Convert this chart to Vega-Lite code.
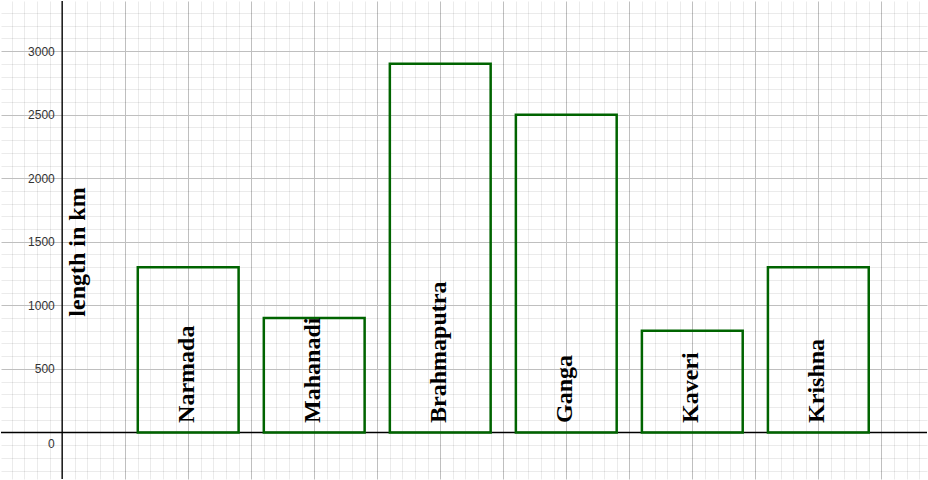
{
  "$schema": "https://vega.github.io/schema/vega-lite/v6.json",
  "width": 928,
  "height": 480,
  "autosize": {"type": "fit", "contains": "padding"},
  "padding": 0,
  "background": "white",
  "config": {"view": {"stroke": null}, "axis": {"minExtent": 0}},
  "data": {"values": [
    {"river": "Narmada", "length": 1300},
    {"river": "Mahanadi", "length": 900},
    {"river": "Brahmaputra", "length": 2900},
    {"river": "Ganga", "length": 2500},
    {"river": "Kaveri", "length": 800},
    {"river": "Krishna", "length": 1300}
  ]},
  "resolve": {"scale": {"x": "independent"}, "axis": {"x": "independent", "y": "independent"}},
  "layer": [
    {
      "data": {"values": [{"label": "length in km"}]},
      "mark": {"type": "text", "angle": -90, "align": "left", "baseline": "alphabetic", "font": "Liberation Serif", "fontWeight": "bold", "fontSize": 24, "color": "#000000"},
      "encoding": {
        "text": {"field": "label"},
        "x": {"datum": 0.36, "type": "quantitative", "scale": {"domain": [-0.9707, 13.724], "nice": false, "zero": false},
          "axis": {"orient": "bottom", "values": [-0.8,-0.6,-0.4,-0.2,0.2,0.4,0.6,0.8,1.2,1.4,1.6,1.8,2.2,2.4,2.6,2.8,3.2,3.4,3.6,3.8,4.2,4.4,4.6,4.8,5.2,5.4,5.6,5.8,6.2,6.4,6.6,6.8,7.2,7.4,7.6,7.8,8.2,8.4,8.6,8.8,9.2,9.4,9.6,9.8,10.2,10.4,10.6,10.8,11.2,11.4,11.6,11.8,12.2,12.4,12.6,12.8,13.2,13.4,13.6],
            "grid": true, "gridColor": "#000000", "gridOpacity": 0.08, "gridWidth": 1, "labels": false, "ticks": false, "domain": false, "title": null}},
        "y": {"datum": 911, "type": "quantitative", "scale": {"domain": [-366, 3394], "nice": false, "zero": false},
          "axis": {"orient": "left", "values": [-300,-200,-100,100,200,300,400,600,700,800,900,1100,1200,1300,1400,1600,1700,1800,1900,2100,2200,2300,2400,2600,2700,2800,2900,3100,3200,3300],
            "grid": true, "gridColor": "#000000", "gridOpacity": 0.08, "gridWidth": 1, "labels": false, "ticks": false, "domain": false, "title": null}}
      }
    },
    {
      "data": {"values": [{}]},
      "mark": {"type": "rule", "color": "#000000", "strokeWidth": 1.4},
      "encoding": {
        "x": {"datum": 0, "type": "quantitative", "scale": {"domain": [-0.9707, 13.724], "nice": false, "zero": false},
          "axis": {"orient": "top", "values": [1,2,3,4,5,6,7,8,9,10,11,12,13], "grid": true, "gridColor": "#bfbfbf", "gridWidth": 1, "labels": false, "ticks": false, "domain": false, "title": null}}
      }
    },
    {
      "data": {"values": [{}]},
      "mark": {"type": "rule", "color": "#000000", "strokeWidth": 1.4},
      "encoding": {
        "y": {"datum": 0, "type": "quantitative", "scale": {"domain": [-366, 3394], "nice": false, "zero": false},
          "axis": {"orient": "right", "values": [500,1000,1500,2000,2500,3000], "grid": true, "gridColor": "#bfbfbf", "gridWidth": 1, "labels": false, "ticks": false, "domain": false, "title": null}}
      }
    },
    {
      "mark": {"type": "bar", "fill": "white", "fillOpacity": 0, "stroke": "#006400", "strokeWidth": 2.5},
      "encoding": {
        "x": {"field": "river", "type": "nominal", "sort": null,
          "scale": {"type": "band", "paddingInner": 0.2, "paddingOuter": 0.7738, "align": 0.7013}, "axis": null},
        "y": {"field": "length", "type": "quantitative", "scale": {"domain": [-366, 3394], "nice": false, "zero": false},
          "axis": {"orient": "left", "values": [0,500,1000,1500,2000,2500,3000], "format": "d", "offset": -61.3, "grid": false, "domain": false, "ticks": false, "tickSize": 0, "labelPadding": 8,
            "labelFont": "Liberation Sans", "labelFontSize": 12, "labelColor": "#333333", "labelOverlap": false,
            "labelOffset": {"condition": {"test": "datum.value === 0", "value": 11}, "value": 0}, "title": null}},
        "y2": {"datum": 0}
      }
    },
    {
      "mark": {"type": "text", "angle": -90, "align": "left", "baseline": "alphabetic", "dy": 6, "font": "Liberation Serif", "fontWeight": "bold", "fontSize": 24, "color": "#000000"},
      "encoding": {
        "text": {"field": "river"},
        "x": {"field": "river", "type": "nominal", "sort": null,
          "scale": {"type": "band", "paddingInner": 0.2, "paddingOuter": 0.7738, "align": 0.7013}, "axis": null},
        "y": {"datum": 75, "type": "quantitative", "scale": {"domain": [-366, 3394], "nice": false, "zero": false}, "axis": null}
      }
    }
  ]
}
